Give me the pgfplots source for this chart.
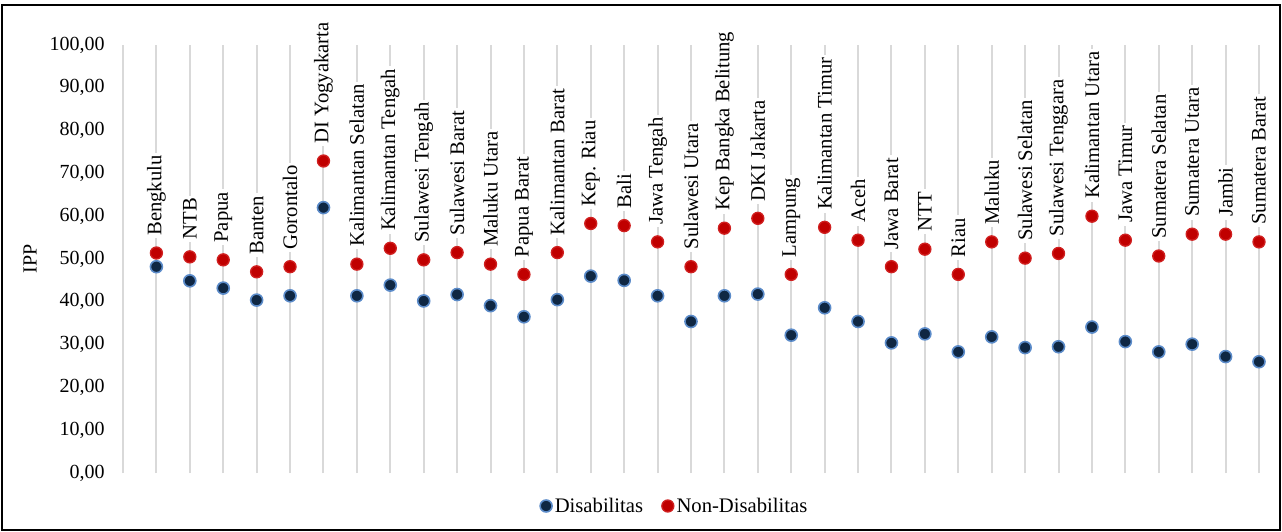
\documentclass[border=0pt]{standalone}
\usepackage{pgfplots}
\pgfplotsset{compat=1.18}
\usepackage{pgfplotstable}
\usepackage{fontspec}
\setmainfont{Liberation Serif}
\definecolor{gridc}{HTML}{D9D9D9}
\definecolor{bluefill}{HTML}{0F2743}
\definecolor{blueedge}{HTML}{5B8BC9}
\definecolor{redfill}{HTML}{C00000}
\definecolor{rededge}{HTML}{D02020}

\pgfplotstableread[col sep=comma]{
x,dis,non,name
1,48.2,51.4,Bengkulu
2,44.9,50.5,NTB
3,43.2,49.8,Papua
4,40.4,47.0,Banten
5,41.4,48.2,Gorontalo
6,62.0,72.9,DI Yogyakarta
7,41.4,48.8,Kalimantan Selatan
8,43.9,52.5,Kalimantan Tengah
9,40.2,49.8,Sulawesi Tengah
10,41.7,51.5,Sulawesi Barat
11,39.1,48.8,Maluku Utara
12,36.5,46.4,Papua Barat
13,40.5,51.5,Kalimantan Barat
14,46.0,58.3,Kep. Riau
15,45.0,57.8,Bali
16,41.4,54.0,Jawa Tengah
17,35.4,48.2,Sulawesi Utara
18,41.4,57.2,Kep Bangka Belitung
19,41.8,59.5,DKI Jakarta
20,32.2,46.4,Lampung
21,38.6,57.4,Kalimantan Timur
22,35.4,54.4,Aceh
23,30.4,48.2,Jawa Barat
24,32.5,52.3,NTT
25,28.3,46.4,Riau
26,31.8,54.0,Maluku
27,29.3,50.2,Sulawesi Selatan
28,29.5,51.3,Sulawesi Tenggara
29,34.1,60.0,Kalimantan Utara
30,30.7,54.4,Jawa Timur
31,28.3,50.7,Sumatera Selatan
32,30.1,55.8,Sumatera Utara
33,27.2,55.8,Jambi
34,26.0,54.0,Sumatera Barat
}\data

\begin{document}
\begin{tikzpicture}
\useasboundingbox (-92.25pt,-44.25pt) rectangle (869.25pt,354.75pt);
\begin{axis}[
  scale only axis,
  width=852pt, height=321pt,
  at={(0,0)}, anchor=south west,
  xmin=0, xmax=34, ymin=0, ymax=100,
  xtick={0,...,34}, xticklabels={},
  ytick={0,10,...,100},
  xmajorgrids,
  major grid style={draw=gridc, line width=1.5pt},
  axis line style={draw=none},
  major tick length=0pt,
  clip=false,
  font=\fontsize{15}{18}\selectfont,
  /pgf/number format/.cd, fixed, fixed zerofill, precision=2, use comma, assume math mode=true,
  /pgfplots/.cd,
  yticklabel style={anchor=east, inner sep=0pt, xshift=-13.5pt},
  every axis y label/.style={at={(axis description cs:-0.0819,0.5)}, rotate=90, anchor=center},
  ylabel={IPP},
  legend columns=2,
  legend style={draw=none, at={(axis description cs:0.486,0)}, anchor=center, yshift=-24.75pt,
    font=\fontsize{15.5}{18}\selectfont, /tikz/every even column/.append style={column sep=12pt}},
  legend image code/.code={\draw[#1] plot coordinates {(0.15cm,0cm)};},
]
\addplot[only marks, mark=*, mark size=4.5pt, mark options={fill=bluefill, draw=blueedge, line width=1.2pt}]
  table[x=x, y=dis] {\data};
\addlegendentry{Disabilitas}
\addplot[only marks, mark=*, mark size=4.5pt, mark options={fill=redfill, draw=rededge, line width=1pt},
  point meta=explicit symbolic,
  nodes near coords,
  every node near coord/.append style={rotate=90, anchor=west, fill=white, inner xsep=2pt, inner ysep=1pt, outer xsep=11pt, text=black, font=\fontsize{15.5}{18}\selectfont}]
  table[x=x, y=non, meta=name] {\data};
\addlegendentry{Non-Disabilitas}
\end{axis}
\draw[line width=1.3pt] (-90.75pt,-42.75pt) rectangle (867.75pt,351pt);
\end{tikzpicture}
\end{document}
